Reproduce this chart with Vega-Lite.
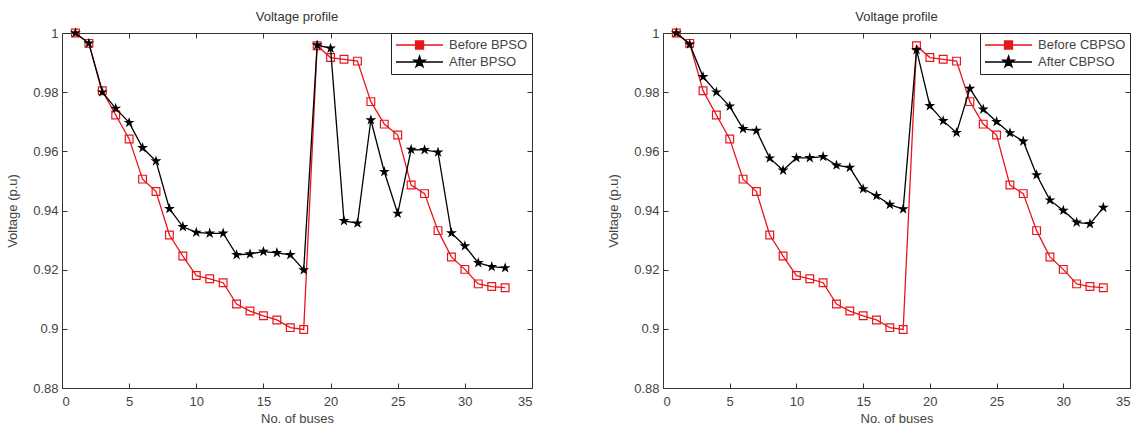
{
  "$schema": "https://vega.github.io/schema/vega-lite/v6.json",
  "padding": {"left": 6, "top": 10, "right": 0, "bottom": 0},
  "datasets": {
    "bpso": [
      {"bus": 1, "Before BPSO": 1.0, "After BPSO": 1.0},
      {"bus": 2, "Before BPSO": 0.9965, "After BPSO": 0.9965},
      {"bus": 3, "Before BPSO": 0.9805, "After BPSO": 0.9800},
      {"bus": 4, "Before BPSO": 0.9723, "After BPSO": 0.9745},
      {"bus": 5, "Before BPSO": 0.9642, "After BPSO": 0.9697},
      {"bus": 6, "Before BPSO": 0.9506, "After BPSO": 0.9612},
      {"bus": 7, "Before BPSO": 0.9464, "After BPSO": 0.9567},
      {"bus": 8, "Before BPSO": 0.9317, "After BPSO": 0.9406},
      {"bus": 9, "Before BPSO": 0.9246, "After BPSO": 0.9345},
      {"bus": 10, "Before BPSO": 0.9180, "After BPSO": 0.9326},
      {"bus": 11, "Before BPSO": 0.9169, "After BPSO": 0.9323},
      {"bus": 12, "Before BPSO": 0.9156, "After BPSO": 0.9323},
      {"bus": 13, "Before BPSO": 0.9084, "After BPSO": 0.9250},
      {"bus": 14, "Before BPSO": 0.9060, "After BPSO": 0.9253},
      {"bus": 15, "Before BPSO": 0.9044, "After BPSO": 0.9261},
      {"bus": 16, "Before BPSO": 0.9030, "After BPSO": 0.9257},
      {"bus": 17, "Before BPSO": 0.9004, "After BPSO": 0.9250},
      {"bus": 18, "Before BPSO": 0.8998, "After BPSO": 0.9199},
      {"bus": 19, "Before BPSO": 0.9957, "After BPSO": 0.9959},
      {"bus": 20, "Before BPSO": 0.9917, "After BPSO": 0.9948},
      {"bus": 21, "Before BPSO": 0.9911, "After BPSO": 0.9365},
      {"bus": 22, "Before BPSO": 0.9905, "After BPSO": 0.9357},
      {"bus": 23, "Before BPSO": 0.9768, "After BPSO": 0.9706},
      {"bus": 24, "Before BPSO": 0.9692, "After BPSO": 0.9531},
      {"bus": 25, "Before BPSO": 0.9655, "After BPSO": 0.9390},
      {"bus": 26, "Before BPSO": 0.9486, "After BPSO": 0.9606},
      {"bus": 27, "Before BPSO": 0.9457, "After BPSO": 0.9605},
      {"bus": 28, "Before BPSO": 0.9332, "After BPSO": 0.9597},
      {"bus": 29, "Before BPSO": 0.9243, "After BPSO": 0.9324},
      {"bus": 30, "Before BPSO": 0.9201, "After BPSO": 0.9280},
      {"bus": 31, "Before BPSO": 0.9152, "After BPSO": 0.9223},
      {"bus": 32, "Before BPSO": 0.9143, "After BPSO": 0.9210},
      {"bus": 33, "Before BPSO": 0.9139, "After BPSO": 0.9206}
    ],
    "cbpso": [
      {"bus": 1, "Before CBPSO": 1.0, "After CBPSO": 1.0},
      {"bus": 2, "Before CBPSO": 0.9965, "After CBPSO": 0.9962},
      {"bus": 3, "Before CBPSO": 0.9805, "After CBPSO": 0.9852},
      {"bus": 4, "Before CBPSO": 0.9723, "After CBPSO": 0.9800},
      {"bus": 5, "Before CBPSO": 0.9642, "After CBPSO": 0.9752},
      {"bus": 6, "Before CBPSO": 0.9506, "After CBPSO": 0.9676},
      {"bus": 7, "Before CBPSO": 0.9464, "After CBPSO": 0.9670},
      {"bus": 8, "Before CBPSO": 0.9317, "After CBPSO": 0.9577},
      {"bus": 9, "Before CBPSO": 0.9246, "After CBPSO": 0.9536},
      {"bus": 10, "Before CBPSO": 0.9180, "After CBPSO": 0.9578},
      {"bus": 11, "Before CBPSO": 0.9169, "After CBPSO": 0.9578},
      {"bus": 12, "Before CBPSO": 0.9156, "After CBPSO": 0.9582},
      {"bus": 13, "Before CBPSO": 0.9084, "After CBPSO": 0.9553},
      {"bus": 14, "Before CBPSO": 0.9060, "After CBPSO": 0.9545},
      {"bus": 15, "Before CBPSO": 0.9044, "After CBPSO": 0.9473},
      {"bus": 16, "Before CBPSO": 0.9030, "After CBPSO": 0.9450},
      {"bus": 17, "Before CBPSO": 0.9004, "After CBPSO": 0.9420},
      {"bus": 18, "Before CBPSO": 0.8998, "After CBPSO": 0.9405},
      {"bus": 19, "Before CBPSO": 0.9957, "After CBPSO": 0.9943},
      {"bus": 20, "Before CBPSO": 0.9917, "After CBPSO": 0.9754},
      {"bus": 21, "Before CBPSO": 0.9911, "After CBPSO": 0.9703},
      {"bus": 22, "Before CBPSO": 0.9905, "After CBPSO": 0.9663},
      {"bus": 23, "Before CBPSO": 0.9768, "After CBPSO": 0.9812},
      {"bus": 24, "Before CBPSO": 0.9692, "After CBPSO": 0.9742},
      {"bus": 25, "Before CBPSO": 0.9655, "After CBPSO": 0.9700},
      {"bus": 26, "Before CBPSO": 0.9486, "After CBPSO": 0.9662},
      {"bus": 27, "Before CBPSO": 0.9457, "After CBPSO": 0.9634},
      {"bus": 28, "Before CBPSO": 0.9332, "After CBPSO": 0.9520},
      {"bus": 29, "Before CBPSO": 0.9243, "After CBPSO": 0.9435},
      {"bus": 30, "Before CBPSO": 0.9201, "After CBPSO": 0.9400},
      {"bus": 31, "Before CBPSO": 0.9152, "After CBPSO": 0.9360},
      {"bus": 32, "Before CBPSO": 0.9143, "After CBPSO": 0.9355},
      {"bus": 33, "Before CBPSO": 0.9139, "After CBPSO": 0.9410}
    ]
  },
  "spacing": 74,
  "hconcat": [
    {
      "width": 470,
      "height": 355,
      "title": "Voltage profile",
      "data": {"name": "bpso"},
      "transform": [{"fold": ["Before BPSO", "After BPSO"], "as": ["series", "v"]}],
      "layer": [
        {
          "transform": [{"filter": "datum.series === 'Before BPSO'"}],
          "mark": {"type": "line", "strokeWidth": 1.3},
          "encoding": {
            "x": {"field": "bus", "type": "quantitative", "scale": {"domain": [0, 35], "nice": false},
                  "axis": {"orient": "bottom", "title": "No. of buses", "values": [0, 5, 10, 15, 20, 25, 30, 35]}},
            "y": {"field": "v", "type": "quantitative", "scale": {"domain": [0.88, 1], "nice": false, "zero": false},
                  "axis": {"orient": "left", "title": "Voltage (p.u)", "values": [0.88, 0.9, 0.92, 0.94, 0.96, 0.98, 1], "format": ".2~f"}},
            "color": {"field": "series", "type": "nominal", "scale": {"domain": ["Before BPSO", "After BPSO"], "range": ["#e8151b", "#000000"]},
                      "legend": {"title": null, "orient": "top-right", "offset": 0,
                                 "encode": {"symbols": {"update": {
                                   "shape": {"signal": "indexof(datum.value,'Before')==0 ? 'M-1,0H1.79M2.93,0H5.71M1.79,-0.57H2.93V0.57H1.79Z' : 'M-1,0H5.71M2.36,-0.86L2.554,-0.266L3.178,-0.266L2.672,0.101L2.866,0.696L2.36,0.329L1.854,0.696L2.048,0.101L1.542,-0.266L2.166,-0.266Z'"},
                                   "fill": {"signal": "indexof(datum.value,'Before')==0 ? 'transparent' : '#000000'"},
                                   "strokeWidth": {"value": 1.3}}}}}}
          }
        },
        {
          "transform": [{"filter": "datum.series === 'Before BPSO'"}],
          "mark": {"type": "point", "shape": "square", "filled": false, "size": 60, "strokeWidth": 1.2, "opacity": 1},
          "encoding": {
            "x": {"field": "bus", "type": "quantitative", "axis": {"orient": "top", "labels": false, "title": null, "values": [0, 5, 10, 15, 20, 25, 30, 35]}},
            "y": {"field": "v", "type": "quantitative", "axis": {"orient": "right", "labels": false, "title": null, "values": [0.88, 0.9, 0.92, 0.94, 0.96, 0.98, 1]}},
            "color": {"field": "series", "type": "nominal", "legend": null}
          }
        },
        {
          "transform": [{"filter": "datum.series === 'After BPSO'"}],
          "mark": {"type": "line", "strokeWidth": 1.3},
          "encoding": {
            "x": {"field": "bus", "type": "quantitative", "axis": null},
            "y": {"field": "v", "type": "quantitative", "axis": null},
            "color": {"field": "series", "type": "nominal", "legend": null}
          }
        },
        {
          "transform": [{"filter": "datum.series === 'After BPSO'"}],
          "mark": {"type": "point", "shape": "M0,-1L0.225,-0.309L0.951,-0.309L0.363,0.118L0.588,0.809L0,0.382L-0.588,0.809L-0.363,0.118L-0.951,-0.309L-0.225,-0.309Z", "filled": true, "size": 130, "opacity": 1},
          "encoding": {
            "x": {"field": "bus", "type": "quantitative", "axis": null},
            "y": {"field": "v", "type": "quantitative", "axis": null},
            "color": {"field": "series", "type": "nominal", "legend": null}
          }
        }
      ],
      "resolve": {"axis": {"x": "independent", "y": "independent"}}
    },
    {
      "width": 467,
      "height": 355,
      "title": "Voltage profile",
      "data": {"name": "cbpso"},
      "transform": [{"fold": ["Before CBPSO", "After CBPSO"], "as": ["series", "v"]}],
      "layer": [
        {
          "transform": [{"filter": "datum.series === 'Before CBPSO'"}],
          "mark": {"type": "line", "strokeWidth": 1.3},
          "encoding": {
            "x": {"field": "bus", "type": "quantitative", "scale": {"domain": [0, 35], "nice": false},
                  "axis": {"orient": "bottom", "title": "No. of buses", "values": [0, 5, 10, 15, 20, 25, 30, 35]}},
            "y": {"field": "v", "type": "quantitative", "scale": {"domain": [0.88, 1], "nice": false, "zero": false},
                  "axis": {"orient": "left", "title": "Voltage (p.u)", "values": [0.88, 0.9, 0.92, 0.94, 0.96, 0.98, 1], "format": ".2~f"}},
            "color": {"field": "series", "type": "nominal", "scale": {"domain": ["Before CBPSO", "After CBPSO"], "range": ["#e8151b", "#000000"]},
                      "legend": {"title": null, "orient": "top-right", "offset": 0,
                                 "encode": {"symbols": {"update": {
                                   "shape": {"signal": "indexof(datum.value,'Before')==0 ? 'M-1,0H1.79M2.93,0H5.71M1.79,-0.57H2.93V0.57H1.79Z' : 'M-1,0H5.71M2.36,-0.86L2.554,-0.266L3.178,-0.266L2.672,0.101L2.866,0.696L2.36,0.329L1.854,0.696L2.048,0.101L1.542,-0.266L2.166,-0.266Z'"},
                                   "fill": {"signal": "indexof(datum.value,'Before')==0 ? 'transparent' : '#000000'"},
                                   "strokeWidth": {"value": 1.3}}}}}}
          }
        },
        {
          "transform": [{"filter": "datum.series === 'Before CBPSO'"}],
          "mark": {"type": "point", "shape": "square", "filled": false, "size": 60, "strokeWidth": 1.2, "opacity": 1},
          "encoding": {
            "x": {"field": "bus", "type": "quantitative", "axis": {"orient": "top", "labels": false, "title": null, "values": [0, 5, 10, 15, 20, 25, 30, 35]}},
            "y": {"field": "v", "type": "quantitative", "axis": {"orient": "right", "labels": false, "title": null, "values": [0.88, 0.9, 0.92, 0.94, 0.96, 0.98, 1]}},
            "color": {"field": "series", "type": "nominal", "legend": null}
          }
        },
        {
          "transform": [{"filter": "datum.series === 'After CBPSO'"}],
          "mark": {"type": "line", "strokeWidth": 1.3},
          "encoding": {
            "x": {"field": "bus", "type": "quantitative", "axis": null},
            "y": {"field": "v", "type": "quantitative", "axis": null},
            "color": {"field": "series", "type": "nominal", "legend": null}
          }
        },
        {
          "transform": [{"filter": "datum.series === 'After CBPSO'"}],
          "mark": {"type": "point", "shape": "M0,-1L0.225,-0.309L0.951,-0.309L0.363,0.118L0.588,0.809L0,0.382L-0.588,0.809L-0.363,0.118L-0.951,-0.309L-0.225,-0.309Z", "filled": true, "size": 130, "opacity": 1},
          "encoding": {
            "x": {"field": "bus", "type": "quantitative", "axis": null},
            "y": {"field": "v", "type": "quantitative", "axis": null},
            "color": {"field": "series", "type": "nominal", "legend": null}
          }
        }
      ],
      "resolve": {"axis": {"x": "independent", "y": "independent"}}
    }
  ],
  "resolve": {"scale": {"color": "independent"}, "legend": {"color": "independent"}},
  "config": {
    "font": "Liberation Sans",
    "view": {"stroke": "#333333", "strokeWidth": 1},
    "axis": {"grid": false, "domain": false, "tickSize": -5, "tickColor": "#333333",
             "labelFontSize": 13, "labelColor": "#444444", "titleFontSize": 13, "titleFontWeight": "normal",
             "titleColor": "#444444"},
    "axisX": {"labelPadding": 12, "titlePadding": 4},
    "axisY": {"labelPadding": 9, "titlePadding": 13},
    "title": {"fontSize": 13, "fontWeight": "normal", "color": "#333333", "offset": 3, "frame": "group"},
    "legend": {"strokeColor": "#222222", "fillColor": "#ffffff", "padding": 4, "symbolSize": 196,
               "labelFontSize": 13, "labelColor": "#444444", "labelOffset": 38, "rowPadding": 1, "symbolStrokeWidth": 1.3}
  }
}
